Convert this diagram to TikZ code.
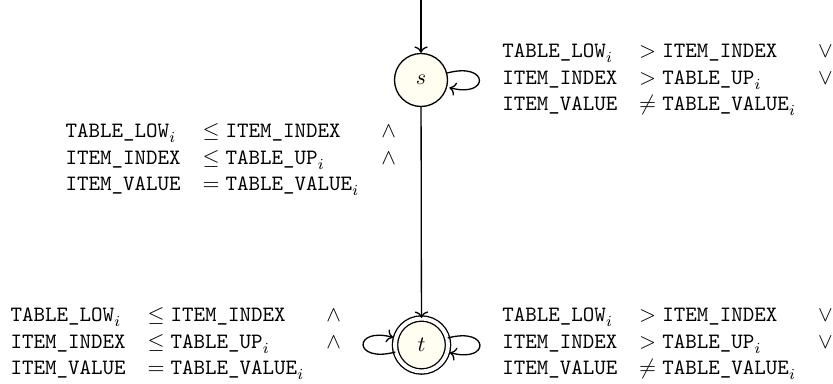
\documentclass[tikz,border=0pt]{standalone}
\usetikzlibrary{arrows.meta}

% typewriter identifiers inside math
\newcommand{\ttv}[1]{\mbox{\ttfamily #1}}

\begin{document}
\begin{tikzpicture}[
    x=0.4566pt, y=-0.4566pt, semithick,
    statenode/.style={circle, draw, fill=yellow!6, minimum size=24.2pt, inner sep=0pt},
    finalstate/.style={double, double distance=1.8pt},
    cond/.style={anchor=west, inner sep=0pt},
  ]
  \useasboundingbox (0,0) rectangle (833,383);

  % states
  \node[statenode] (s) at (421,80) {$s$};
  \node[statenode, finalstate] (t) at (421.5,345) {$t$};
  \coordinate (init) at (421,0);

  % transitions
  \draw[->] (init) -- (s);
  \draw[->] (s) -- (t);
  \path[->] (s) edge[loop right] ();
  \path[->] (t) edge[loop left] () edge[loop right] ();

  % guard conditions
  \node[cond] (gs) at (501.7,79) {$\begin{array}{@{}lll@{}}
      \ttv{TABLE\_LOW}_i  & > \ttv{ITEM\_INDEX}        & \vee\\
      \ttv{ITEM\_INDEX}   & > \ttv{TABLE\_UP}_i        & \vee\\
      \ttv{ITEM\_VALUE}   & \neq \ttv{TABLE\_VALUE}_i  &
    \end{array}$};
  \node[cond] (gst) at (65,159) {$\begin{array}{@{}lll@{}}
      \ttv{TABLE\_LOW}_i  & \leq \ttv{ITEM\_INDEX}     & \wedge\\
      \ttv{ITEM\_INDEX}   & \leq \ttv{TABLE\_UP}_i     & \wedge\\
      \ttv{ITEM\_VALUE}   & = \ttv{TABLE\_VALUE}_i     &
    \end{array}$};
  \node[cond] (gtl) at (10,343) {$\begin{array}{@{}lll@{}}
      \ttv{TABLE\_LOW}_i  & \leq \ttv{ITEM\_INDEX}     & \wedge\\
      \ttv{ITEM\_INDEX}   & \leq \ttv{TABLE\_UP}_i     & \wedge\\
      \ttv{ITEM\_VALUE}   & = \ttv{TABLE\_VALUE}_i     &
    \end{array}$};
  \node[cond] (gtr) at (501.7,343) {$\begin{array}{@{}lll@{}}
      \ttv{TABLE\_LOW}_i  & > \ttv{ITEM\_INDEX}        & \vee\\
      \ttv{ITEM\_INDEX}   & > \ttv{TABLE\_UP}_i        & \vee\\
      \ttv{ITEM\_VALUE}   & \neq \ttv{TABLE\_VALUE}_i  &
    \end{array}$};
\end{tikzpicture}
\end{document}
